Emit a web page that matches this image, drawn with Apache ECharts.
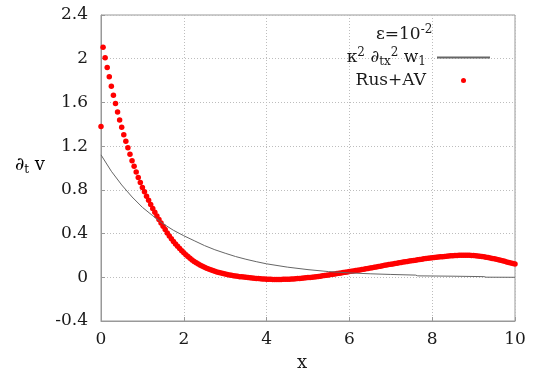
<!DOCTYPE html>
<html>
<head>
<meta charset="utf-8">
<script src="https://cdn.jsdelivr.net/npm/echarts@6/dist/echarts.min.js"></script>
<style>
  html, body { margin: 0; padding: 0; background: #fff; }
  #chart { width: 535px; height: 372px; }
</style>
</head>
<body>
<div id="chart"></div>
<script>
// axis ticks
const xTicks = [0, 2, 4, 6, 8, 10];
const yTicks = [-0.4, 0, 0.4, 0.8, 1.2, 1.6, 2, 2.4];

// kappa^2 d_tx^2 w_1 (thin line), [x, y]
const kappaLine = [
  [0, 1.12], [0.25, 0.97], [0.5, 0.845], [0.75, 0.735], [1, 0.64], [1.25, 0.563],
  [1.5, 0.49], [1.75, 0.43], [2, 0.38], [2.25, 0.335], [2.5, 0.29], [2.75, 0.252],
  [3, 0.22], [3.25, 0.19], [3.5, 0.165], [3.75, 0.143], [4, 0.123], [4.5, 0.093],
  [5, 0.07], [5.5, 0.052], [6, 0.04], [6.5, 0.032], [7, 0.026], [7.6, 0.02],
  [7.65, 0.013], [8.5, 0.01], [9.25, 0.006], [9.3, 0.001], [10, 0.0]
];

// Rus+AV (red dots), [x, y]
const rusAV = [
  [0.00, 1.38], [0.05, 2.105], [0.10, 2.008], [0.15, 1.92], [0.20, 1.834],
  [0.25, 1.748], [0.30, 1.665], [0.35, 1.59], [0.40, 1.513], [0.45, 1.44],
  [0.50, 1.372], [0.55, 1.305], [0.60, 1.244], [0.65, 1.186], [0.70, 1.125],
  [0.75, 1.067], [0.80, 1.015], [0.85, 0.963], [0.90, 0.914], [0.95, 0.868],
  [1.00, 0.822], [1.05, 0.782], [1.10, 0.742], [1.15, 0.704], [1.20, 0.667],
  [1.25, 0.63], [1.30, 0.595], [1.35, 0.56], [1.40, 0.528], [1.45, 0.497],
  [1.50, 0.466], [1.55, 0.437], [1.60, 0.405], [1.65, 0.378], [1.70, 0.352],
  [1.75, 0.328], [1.80, 0.305], [1.85, 0.284], [1.90, 0.263], [1.95, 0.243],
  [2.00, 0.225], [2.05, 0.207], [2.10, 0.19], [2.15, 0.174], [2.20, 0.159],
  [2.25, 0.145], [2.30, 0.133], [2.35, 0.121], [2.40, 0.11], [2.45, 0.10],
  [2.50, 0.091], [2.55, 0.083], [2.60, 0.075], [2.65, 0.068], [2.70, 0.061],
  [2.75, 0.055], [2.80, 0.049], [2.85, 0.044], [2.90, 0.039], [2.95, 0.034],
  [3.00, 0.03], [3.05, 0.026], [3.10, 0.022], [3.15, 0.018], [3.20, 0.015],
  [3.25, 0.012], [3.30, 0.009], [3.35, 0.006], [3.40, 0.004], [3.45, 0.002],
  [3.50, 0.0], [3.55, -0.002], [3.60, -0.004], [3.65, -0.006], [3.70, -0.008],
  [3.75, -0.01], [3.80, -0.012], [3.85, -0.013], [3.90, -0.015], [3.95, -0.016],
  [4.00, -0.017], [4.05, -0.018], [4.10, -0.019], [4.15, -0.02], [4.20, -0.02],
  [4.25, -0.02], [4.30, -0.02], [4.35, -0.02], [4.40, -0.019], [4.45, -0.019],
  [4.50, -0.018], [4.55, -0.017], [4.60, -0.016], [4.65, -0.015], [4.70, -0.013],
  [4.75, -0.012], [4.80, -0.01], [4.85, -0.009], [4.90, -0.007], [4.95, -0.005],
  [5.00, -0.003], [5.05, -0.001], [5.10, 0.001], [5.15, 0.003], [5.20, 0.005],
  [5.25, 0.008], [5.30, 0.01], [5.35, 0.013], [5.40, 0.016], [5.45, 0.019],
  [5.50, 0.022], [5.55, 0.025], [5.60, 0.028], [5.65, 0.031], [5.70, 0.034],
  [5.75, 0.037], [5.80, 0.04], [5.85, 0.043], [5.90, 0.046], [5.95, 0.049],
  [6.00, 0.052], [6.05, 0.055], [6.10, 0.058], [6.15, 0.061], [6.20, 0.064],
  [6.25, 0.067], [6.30, 0.071], [6.35, 0.074], [6.40, 0.077], [6.45, 0.081],
  [6.50, 0.084], [6.55, 0.088], [6.60, 0.091], [6.65, 0.095], [6.70, 0.098],
  [6.75, 0.102], [6.80, 0.105], [6.85, 0.109], [6.90, 0.112], [6.95, 0.116],
  [7.00, 0.119], [7.05, 0.122], [7.10, 0.126], [7.15, 0.129], [7.20, 0.132],
  [7.25, 0.136], [7.30, 0.139], [7.35, 0.142], [7.40, 0.145], [7.45, 0.148],
  [7.50, 0.151], [7.55, 0.154], [7.60, 0.157], [7.65, 0.16], [7.70, 0.163],
  [7.75, 0.166], [7.80, 0.169], [7.85, 0.171], [7.90, 0.174], [7.95, 0.176],
  [8.00, 0.179], [8.05, 0.181], [8.10, 0.183], [8.15, 0.185], [8.20, 0.187],
  [8.25, 0.189], [8.30, 0.191], [8.35, 0.193], [8.40, 0.195], [8.45, 0.196],
  [8.50, 0.198], [8.55, 0.199], [8.60, 0.20], [8.65, 0.201], [8.70, 0.202],
  [8.75, 0.202], [8.80, 0.202], [8.85, 0.202], [8.90, 0.201], [8.95, 0.20],
  [9.00, 0.199], [9.05, 0.197], [9.10, 0.195], [9.15, 0.193], [9.20, 0.19],
  [9.25, 0.187], [9.30, 0.184], [9.35, 0.181], [9.40, 0.177], [9.45, 0.173],
  [9.50, 0.169], [9.55, 0.165], [9.60, 0.16], [9.65, 0.156], [9.70, 0.151],
  [9.75, 0.146], [9.80, 0.141], [9.85, 0.136], [9.90, 0.131], [9.95, 0.126],
  [10.00, 0.121]
];

const FONT = '"DejaVu Serif", serif';
const rich = {
  m: { fontFamily: FONT, fontSize: 17, color: '#1a1a1a', fontWeight: 'normal' },
  big: { fontFamily: FONT, fontSize: 18, color: '#1a1a1a', fontWeight: 'normal' },
  sup: { fontFamily: FONT, fontSize: 12, color: '#1a1a1a', fontWeight: 'normal', padding: [0, 0, 9, 0] },
  sub: { fontFamily: FONT, fontSize: 12, color: '#1a1a1a', fontWeight: 'normal', padding: [9, 0, 0, 0] }
};

const gridLine = { show: true, lineStyle: { type: [1, 2], color: '#bdbdbd', width: 1 } };

const chart = echarts.init(document.getElementById('chart'));
chart.setOption({
  animation: false,
  backgroundColor: '#fff',
  grid: {
    left: 101, right: 20, top: 15, bottom: 51,
    outerBoundsMode: 'none', containLabel: false,
    show: true, borderColor: '#999', borderWidth: 1
  },
  title: {
    text: '{m|ε=10}{sup|-2}',
    left: 371, top: 19,
    textStyle: { fontWeight: 'normal', rich: rich }
  },
  legend: {
    orient: 'vertical',
    align: 'right',
    right: 39, top: 42,
    itemWidth: 53, itemHeight: 5, itemGap: 4,
    data: [
      { name: 'kappa', itemStyle: { opacity: 0 } },
      { name: 'rus' }
    ],
    formatter: function (name) {
      return name === 'kappa'
        ? '{m|κ}{sup|2}{m| ∂}{sub|tx}{sup|2}{m| w}{sub|1}'
        : '{m|Rus+AV}';
    },
    textStyle: { rich: rich, padding: [0, 6, 0, 0] }
  },
  xAxis: {
    type: 'value', min: xTicks[0], max: xTicks[xTicks.length - 1], interval: 2,
    name: 'x', nameLocation: 'middle', nameGap: 33,
    nameTextStyle: { fontFamily: FONT, fontSize: 18, color: '#1a1a1a', padding: [0, 12, 0, 0] },
    axisLine: { onZero: false, lineStyle: { color: '#999' } },
    axisTick: { inside: true, length: 4, lineStyle: { color: '#999' } },
    axisLabel: { fontFamily: FONT, fontSize: 17, color: '#1a1a1a', margin: 10 },
    splitLine: gridLine
  },
  yAxis: {
    type: 'value', min: yTicks[0], max: yTicks[yTicks.length - 1], interval: 0.4,
    axisLine: { show: true, onZero: false, lineStyle: { color: '#999' } },
    axisTick: { show: true, inside: true, length: 4, lineStyle: { color: '#999' } },
    axisLabel: { fontFamily: FONT, fontSize: 17, color: '#1a1a1a', margin: 13 },
    splitLine: gridLine
  },
  graphic: [
    { type: 'text', left: 15, top: 156,
      style: { text: '{big|∂}{sub|t}{big| v}', rich: rich } }
  ],
  series: [
    {
      name: 'kappa', type: 'line', data: kappaLine,
      showSymbol: false, symbol: 'none', smooth: false,
      lineStyle: { color: '#666', width: 1 },
      itemStyle: { color: '#666' }
    },
    {
      name: 'rus', type: 'scatter', data: rusAV,
      symbol: 'circle', symbolSize: 5.5,
      itemStyle: { color: '#ff0000', opacity: 1 }
    }
  ]
});
</script>
</body>
</html>
